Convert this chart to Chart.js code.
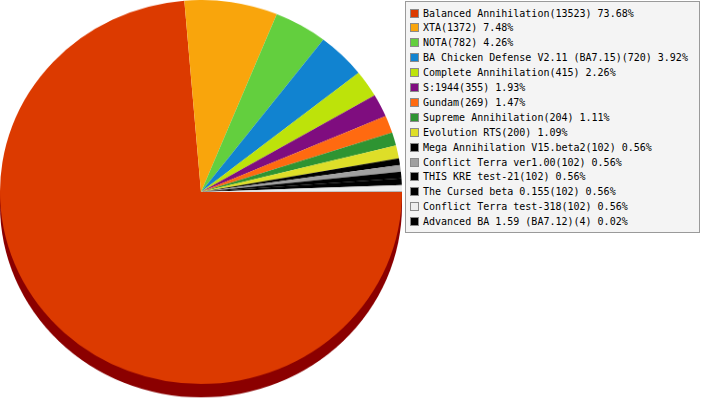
<!DOCTYPE html>
<html>
<head>
<meta charset="utf-8">
<script src="https://cdn.jsdelivr.net/npm/chart.js@4/dist/chart.umd.min.js"></script>
<style>
  html, body { margin: 0; padding: 0; background: #fff; }
  #wrap { position: relative; width: 701px; height: 400px; overflow: hidden; }
  #pieBox { position: absolute; left: 0; top: 0; width: 402px; height: 420px; transform: scaleY(0.955); transform-origin: 0 0; }
  #legend { position: absolute; left: 405px; top: 1px; width: 293px; height: 230px; border: 1px solid #9a9a9a; background: #f4f4f4; }
  .row { position: absolute; left: 0; height: 15px; line-height: 15px; font-family: "DejaVu Sans Mono", monospace; font-size: 10px; color: #000; white-space: nowrap; }
  .sq { position: absolute; left: 4px; top: 3px; width: 7px; height: 7px; border: 1px solid #8a8a8a; }
  .tx { position: absolute; left: 17px; top: 0; }
</style>
</head>
<body>
<div id="wrap">
  <div id="pieBox"><canvas id="c" width="402" height="420"></canvas></div>
  <div id="legend"></div>
</div>
<script>
const categories = [
  "Balanced Annihilation",
  "XTA",
  "NOTA",
  "BA Chicken Defense V2.11 (BA7.15)",
  "Complete Annihilation",
  "S:1944",
  "Gundam",
  "Supreme Annihilation",
  "Evolution RTS",
  "Mega Annihilation V15.beta2",
  "Conflict Terra ver1.00",
  "THIS KRE test-21",
  "The Cursed beta 0.155",
  "Conflict Terra test-318",
  "Advanced BA 1.59 (BA7.12)"
];
const values = [13523, 1372, 782, 720, 415, 355, 269, 204, 200, 102, 102, 102, 102, 102, 4];
const percentLabels = ["73.68%", "7.48%", "4.26%", "3.92%", "2.26%", "1.93%", "1.47%", "1.11%", "1.09%", "0.56%", "0.56%", "0.56%", "0.56%", "0.56%", "0.02%"];
const colors = ["#DC3A00", "#F9A50C", "#63CF3E", "#1183D0", "#BDE30A", "#7F0D7F", "#FF6A10", "#2E9432", "#DEDE28", "#000000", "#A0A0A0", "#000000", "#000000", "#EEEEEE", "#000000"];
const depthColor = "#8B0000";

// legend (HTML text)
const legend = document.getElementById('legend');
categories.forEach((name, i) => {
  const row = document.createElement('div');
  row.className = 'row';
  row.style.top = (3.5 + i * 14.9) + 'px';
  const sq = document.createElement('div');
  sq.className = 'sq';
  sq.style.background = colors[i];
  const tx = document.createElement('div');
  tx.className = 'tx';
  tx.textContent = name + '(' + values[i] + ') ' + percentLabels[i];
  row.appendChild(sq);
  row.appendChild(tx);
  legend.appendChild(row);
});

const depthPlugin = {
  id: 'depth',
  beforeDatasetsDraw(chart) {
    const meta = chart.getDatasetMeta(0);
    if (!meta.data.length) return;
    const arc = meta.data[0];
    const cx = arc.x, cy = arc.y, r = arc.outerRadius;
    const d = 14;
    const ctx = chart.ctx;
    ctx.save();
    ctx.fillStyle = depthColor;
    ctx.beginPath();
    ctx.rect(cx - r, cy, 2 * r, d);
    ctx.fill();
    ctx.beginPath();
    ctx.arc(cx, cy + d, r, 0, Math.PI);
    ctx.fill();
    ctx.restore();
  }
};

new Chart(document.getElementById('c'), {
  type: 'pie',
  data: {
    labels: categories,
    datasets: [{
      data: values,
      backgroundColor: colors,
      borderWidth: 0
    }]
  },
  options: {
    responsive: false,
    animation: false,
    rotation: 90,
    layout: { padding: { top: 0, bottom: 18, left: 0, right: 0 } },
    plugins: {
      legend: { display: false },
      tooltip: { enabled: false }
    },
    events: []
  },
  plugins: [depthPlugin]
});
</script>
</body>
</html>
